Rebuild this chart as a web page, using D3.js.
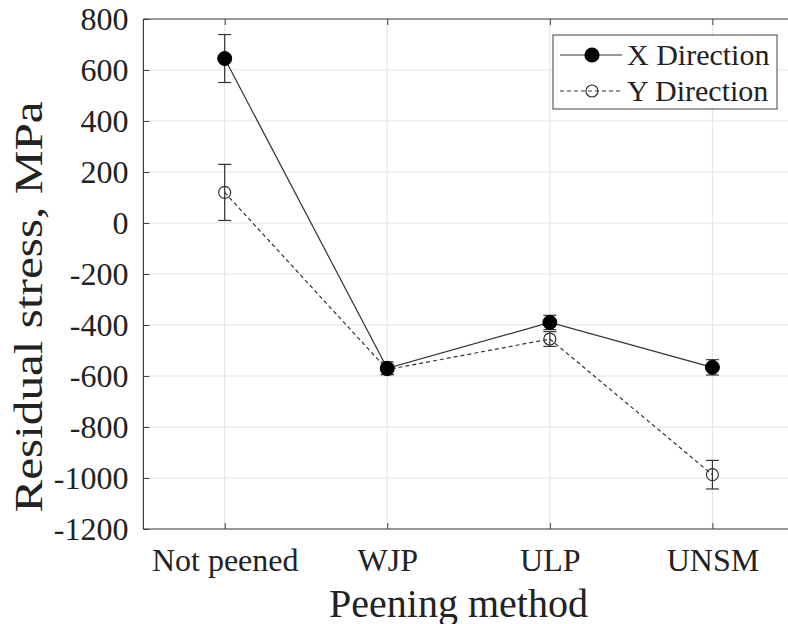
<!DOCTYPE html>
<html><head><meta charset="utf-8">
<script src="https://d3js.org/d3.v7.min.js"></script>
<style>body{margin:0;background:#fff;} svg{display:block;}</style>
</head><body>
<script>
const categories = ["Not peened", "WJP", "ULP", "UNSM"];
const xValues = [645, -570, -390, -566];
const xErr = [94, 25, 28, 30];
const yValues = [120, -575, -455, -987];
const yErr = [110, 18, 29, 56];
const yTicks = [-1200, -1000, -800, -600, -400, -200, 0, 200, 400, 600, 800];

const W = 788, H = 624;
const L = 143.4, R = 793.7, T = 19, B = 529;
const font = "'Liberation Serif','Times New Roman',serif";
const axisColor = "#404040";

const svg = d3.select("body").append("svg").attr("width", W).attr("height", H);

const x = d3.scalePoint().domain(categories).range([L, R]).padding(0.5);
const y = d3.scaleLinear().domain([-1200, 800]).range([B, T]);

const g = svg.append("g");

// grid
g.append("g").selectAll("line").data(yTicks).join("line")
  .attr("x1", L).attr("x2", R).attr("y1", d => y(d)).attr("y2", d => y(d))
  .attr("stroke", "#e3e3e3").attr("stroke-width", 1);
g.append("g").selectAll("line").data(categories).join("line")
  .attr("x1", d => x(d)).attr("x2", d => x(d)).attr("y1", T).attr("y2", B)
  .attr("stroke", "#e3e3e3").attr("stroke-width", 1);

// axes
const yAxis = d3.axisLeft(y).tickValues(yTicks).tickSize(-6).tickPadding(15).tickFormat(d => String(d));
const ya = g.append("g").attr("transform", `translate(${L},0)`).call(yAxis);
const xAxis = d3.axisBottom(x).tickSize(-6).tickPadding(18);
const xa = g.append("g").attr("transform", `translate(0,${B})`).call(xAxis);
const xTop = d3.axisTop(x).tickSize(-6).tickFormat("");
const xt = g.append("g").attr("transform", `translate(0,${T})`).call(xTop);
[ya, xa, xt].forEach(a => {
  a.select(".domain").attr("stroke", axisColor).attr("stroke-width", 1.2);
  a.selectAll(".tick line").attr("stroke", axisColor).attr("stroke-width", 1);
  a.selectAll("text").attr("font-family", font).attr("font-size", 32).attr("fill", "#222");
});
ya.select(".domain").attr("d", `M0,${B}V${T}`);
xa.select(".domain").attr("d", `M${L},0H${R}`);
xt.select(".domain").attr("d", `M${L},0H${R}`);
ya.selectAll("text").attr("dy", "0.34em");
xa.selectAll("text").attr("dy", "0.75em");

// lines
const line = d3.line().x((d, i) => x(categories[i])).y(d => y(d));
g.append("path").datum(xValues).attr("d", line).attr("fill", "none")
  .attr("stroke", "#333").attr("stroke-width", 1.2);
g.append("path").datum(yValues).attr("d", line).attr("fill", "none")
  .attr("stroke", "#333").attr("stroke-width", 1.2).attr("stroke-dasharray", "4,3");

function errBars(vals, errs) {
  const eg = g.append("g").attr("stroke", "#333").attr("stroke-width", 1.2);
  vals.forEach((v, i) => {
    const cx = x(categories[i]);
    eg.append("line").attr("x1", cx).attr("x2", cx).attr("y1", y(v - errs[i])).attr("y2", y(v + errs[i]));
    eg.append("line").attr("x1", cx - 6.5).attr("x2", cx + 6.5).attr("y1", y(v + errs[i])).attr("y2", y(v + errs[i]));
    eg.append("line").attr("x1", cx - 6.5).attr("x2", cx + 6.5).attr("y1", y(v - errs[i])).attr("y2", y(v - errs[i]));
  });
}
errBars(yValues, yErr);
errBars(xValues, xErr);

g.append("g").selectAll("circle").data(yValues).join("circle")
  .attr("cx", (d, i) => x(categories[i])).attr("cy", d => y(d)).attr("r", 6)
  .attr("fill", "none").attr("stroke", "#333").attr("stroke-width", 1.2);
g.append("g").selectAll("circle").data(xValues).join("circle")
  .attr("cx", (d, i) => x(categories[i])).attr("cy", d => y(d)).attr("r", 7)
  .attr("fill", "#000").attr("stroke", "#000");

// axis titles
svg.append("text").attr("x", (L + R) / 2 - 10).attr("y", 617).attr("text-anchor", "middle")
  .attr("font-family", font).attr("font-size", 40).attr("fill", "#222").text("Peening method");
svg.append("text").attr("transform", `translate(42,307) rotate(-90) scale(1.2,1)`)
  .attr("text-anchor", "middle").attr("font-family", font).attr("font-size", 41).attr("fill", "#222")
  .text("Residual stress, MPa");

// legend
const lg = svg.append("g");
lg.append("rect").attr("x", 553).attr("y", 35).attr("width", 224).attr("height", 74)
  .attr("fill", "#fff").attr("stroke", axisColor).attr("stroke-width", 1);
const legendItems = [
  {label: "X Direction", dash: null, filled: true, yy: 55},
  {label: "Y Direction", dash: "4,3", filled: false, yy: 91}
];
legendItems.forEach(it => {
  lg.append("line").attr("x1", 560).attr("x2", 622).attr("y1", it.yy).attr("y2", it.yy)
    .attr("stroke", "#333").attr("stroke-width", 1.2).attr("stroke-dasharray", it.dash);
  lg.append("circle").attr("cx", 592).attr("cy", it.yy).attr("r", it.filled ? 7 : 6)
    .attr("fill", it.filled ? "#000" : "none").attr("stroke", it.filled ? "#000" : "#333").attr("stroke-width", 1.2);
  lg.append("text").attr("x", 627).attr("y", it.yy).attr("dy", "0.34em")
    .attr("font-family", font).attr("font-size", 30).attr("fill", "#222").text(it.label);
});
</script>
</body></html>
